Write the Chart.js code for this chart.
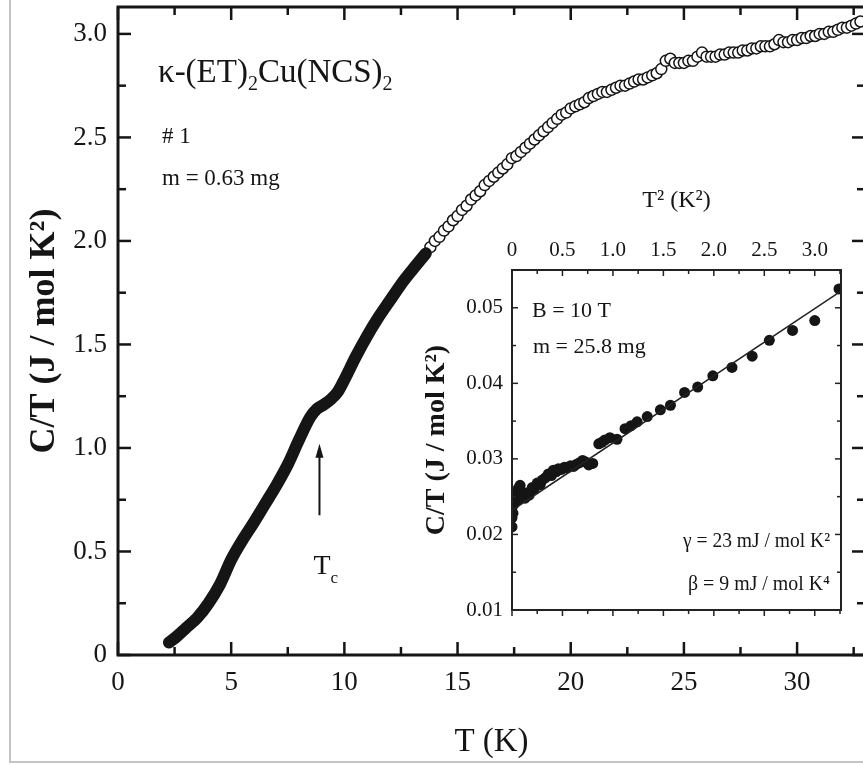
<!DOCTYPE html>
<html>
<head>
<meta charset="utf-8">
<title>C/T vs T</title>
<script src="https://cdn.jsdelivr.net/npm/chart.js@4"></script>
<style>
  html, body { margin: 0; padding: 0; width: 863px; height: 765px; overflow: hidden; background: #fff; }
  #marco { position: absolute; left: 9px; top: -10px; width: 900px; height: 773px; border: 2px solid #c4c4c4; box-sizing: border-box; }
  #myChart { position: absolute; left: 0; top: 0; }
  #insetChart { position: absolute; left: 415px; top: 175px; }
</style>
</head>
<body>
<div id="marco"></div>
<canvas id="myChart" width="872" height="765"></canvas>
<canvas id="insetChart" width="440" height="455"></canvas>
<script>
// main curve, below ~13.6 K the points merge into a solid band
const tempLow = [2.25, 2.6, 3.0, 3.5, 4.0, 4.5, 5.0, 5.5, 6.0, 6.5, 7.0, 7.5, 8.0, 8.5, 8.8, 9.1, 9.4, 9.7, 10.0, 10.5, 11.0, 11.5, 12.0, 12.5, 13.0, 13.6];
const ctLow = [0.06, 0.09, 0.13, 0.18, 0.25, 0.34, 0.46, 0.555, 0.64, 0.73, 0.82, 0.92, 1.04, 1.15, 1.19, 1.21, 1.235, 1.27, 1.33, 1.44, 1.54, 1.63, 1.71, 1.79, 1.86, 1.94];

// open circles above ~13.7 K
const tempHigh = [13.8, 14.0, 14.2, 14.4, 14.6, 14.8, 15.0, 15.2, 15.4, 15.6, 15.8, 16.0, 16.2, 16.4, 16.6, 16.8, 17.0, 17.2, 17.4, 17.6, 17.8, 18.0, 18.2, 18.4, 18.6, 18.8, 19.0, 19.2, 19.4, 19.6, 19.8, 20.0, 20.2, 20.4, 20.6, 20.8, 21.0, 21.2, 21.4, 21.6, 21.8, 22.0, 22.2, 22.4, 22.6, 22.8, 23.0, 23.2, 23.4, 23.6, 23.8, 24.0, 24.2, 24.4, 24.6, 24.8, 25.0, 25.2, 25.4, 25.6, 25.8, 26.0, 26.2, 26.4, 26.6, 26.8, 27.0, 27.2, 27.4, 27.6, 27.8, 28.0, 28.2, 28.4, 28.6, 28.8, 29.0, 29.2, 29.4, 29.6, 29.8, 30.0, 30.2, 30.4, 30.6, 30.8, 31.0, 31.2, 31.4, 31.6, 31.8, 32.0, 32.2, 32.4, 32.6, 32.8];
const ctHigh = [1.97, 2.00, 2.02, 2.05, 2.07, 2.10, 2.12, 2.15, 2.17, 2.20, 2.22, 2.24, 2.27, 2.29, 2.31, 2.33, 2.35, 2.37, 2.40, 2.41, 2.43, 2.45, 2.47, 2.49, 2.51, 2.53, 2.55, 2.57, 2.59, 2.61, 2.62, 2.64, 2.65, 2.66, 2.67, 2.69, 2.70, 2.71, 2.72, 2.72, 2.73, 2.74, 2.75, 2.75, 2.76, 2.77, 2.78, 2.78, 2.79, 2.80, 2.81, 2.83, 2.87, 2.88, 2.86, 2.86, 2.86, 2.87, 2.87, 2.89, 2.91, 2.89, 2.89, 2.89, 2.90, 2.90, 2.91, 2.91, 2.91, 2.92, 2.92, 2.93, 2.93, 2.94, 2.94, 2.94, 2.95, 2.97, 2.96, 2.96, 2.97, 2.97, 2.98, 2.98, 2.99, 2.99, 3.00, 3.00, 3.01, 3.01, 3.02, 3.03, 3.03, 3.04, 3.05, 3.06];

// inset, B = 10 T
const t2Inset = [0.00, 0.00, 0.00, 0.01, 0.01, 0.02, 0.02, 0.03, 0.04, 0.05, 0.06, 0.07, 0.08, 0.09, 0.10, 0.12, 0.13, 0.15, 0.17, 0.20, 0.22, 0.25, 0.28, 0.30, 0.33, 0.36, 0.39, 0.41, 0.44, 0.46, 0.49, 0.52, 0.55, 0.58, 0.61, 0.64, 0.67, 0.70, 0.73, 0.76, 0.80, 0.86, 0.89, 0.92, 0.97, 1.04, 1.12, 1.18, 1.24, 1.34, 1.47, 1.57, 1.71, 1.84, 1.99, 2.18, 2.38, 2.55, 2.78, 3.00, 3.24];
const ctInset = [0.0210, 0.0222, 0.0236, 0.0228, 0.0246, 0.0240, 0.0252, 0.0255, 0.0248, 0.0245, 0.0260, 0.0262, 0.0265, 0.0258, 0.0250, 0.0250, 0.0248, 0.0255, 0.0252, 0.0262, 0.0260, 0.0268, 0.0266, 0.0272, 0.0275, 0.0280, 0.0278, 0.0285, 0.0283, 0.0287, 0.0286, 0.0289, 0.0288, 0.0291, 0.0290, 0.0293, 0.0295, 0.0298, 0.0296, 0.0292, 0.0294, 0.0320, 0.0322, 0.0325, 0.0328, 0.0326, 0.0340, 0.0344, 0.0349, 0.0356, 0.0365, 0.0371, 0.0388, 0.0395, 0.0410, 0.0421, 0.0436, 0.0457, 0.0470, 0.0483, 0.0525];
const t2Fit = [0, 3.26];
const ctFit = [0.0232, 0.0522];

const xTicks = [0, 5, 10, 15, 20, 25, 30];
const xTickLabels = ["0", "5", "10", "15", "20", "25", "30"];
const yTicks = [0, 0.5, 1.0, 1.5, 2.0, 2.5, 3.0];
const yTickLabels = ["0", "0.5", "1.0", "1.5", "2.0", "2.5", "3.0"];
const xInsetTicks = [0, 0.5, 1.0, 1.5, 2.0, 2.5, 3.0];
const xInsetLabels = ["0", "0.5", "1.0", "1.5", "2.0", "2.5", "3.0"];
const yInsetTicks = [0.01, 0.02, 0.03, 0.04, 0.05];
const yInsetLabels = ["0.01", "0.02", "0.03", "0.04", "0.05"];

const serif = "'Liberation Serif', 'Times New Roman', serif";
const ink = "#151515";
Chart.defaults.font.family = serif;
Chart.defaults.color = ink;

const toPoints = (xs, ys) => xs.map((x, i) => ({ x: x, y: ys[i] }));

const range = (from, to, step) => {
    let out = [];
    for (let v = from; v <= to + 1e-9; v += step) out.push(+v.toFixed(4));
    return out;
};

// fixed axis sizes, no extra room for edge labels
const fixSize = (prop, size) => (s) => {
    s[prop] = size;
    s.paddingTop = 0; s.paddingBottom = 0; s.paddingLeft = 0; s.paddingRight = 0;
};

// ticks pointing into the box, drawn from the scales
const drawBox = (chart, o) => {
    const { ctx, chartArea: a, scales } = chart;
    const sx = scales.x, sy = scales.y;
    const mark = (x1, y1, x2, y2) => { ctx.beginPath(); ctx.moveTo(x1, y1); ctx.lineTo(x2, y2); ctx.stroke(); };
    ctx.save();
    ctx.strokeStyle = o.color;
    ctx.lineWidth = o.tickWidth;
    o.xMajor.concat(o.xMinor).forEach((v) => {
        const len = o.xMajor.includes(v) ? o.major : o.minor;
        const px = sx.getPixelForValue(v);
        mark(px, a.top, px, a.top + len);
        mark(px, a.bottom, px, a.bottom + o.bottomDir * len);
    });
    o.yMajor.concat(o.yMinor).forEach((v) => {
        const len = o.yMajor.includes(v) ? o.major : o.minor;
        const py = sy.getPixelForValue(v);
        mark(a.left, py, a.left + len, py);
        mark(a.right, py, a.right - len, py);
    });
    ctx.lineWidth = o.frameWidth;
    ctx.strokeRect(a.left, a.top, a.right - a.left, a.bottom - a.top);
    ctx.restore();
};

const text = (ctx, t, x, y, size, opts = {}) => {
    ctx.font = (opts.bold ? "bold " : "") + size + "px " + serif;
    ctx.textAlign = opts.align || "left";
    ctx.textBaseline = "alphabetic";
    if (opts.maxWidth) ctx.fillText(t, x, y, opts.maxWidth);
    else ctx.fillText(t, x, y);
    return ctx.measureText(t).width;
};

const mainDecor = {
    id: "mainDecor",
    afterDraw(chart) {
        drawBox(chart, {
            color: ink, tickWidth: 2.5, frameWidth: 3, major: 13, minor: 8, bottomDir: -1,
            xMajor: xTicks, xMinor: range(2.5, 32.5, 5),
            yMajor: yTicks, yMinor: range(0.25, 2.75, 0.5)
        });
        const { ctx, scales } = chart;
        ctx.save();
        ctx.fillStyle = ink;
        // compound name
        let x = 158;
        x += text(ctx, "\u03BA-(ET)", x, 82, 33);
        x += text(ctx, "2", x, 90, 20);
        x += text(ctx, "Cu(NCS)", x, 82, 33);
        text(ctx, "2", x, 90, 20);
        text(ctx, "# 1", 162, 143, 23);
        text(ctx, "m = 0.63 mg", 162, 185, 23);
        // Tc arrow
        const ax = scales.x.getPixelForValue(8.9);
        const yTip = scales.y.getPixelForValue(1.02);
        const yEnd = scales.y.getPixelForValue(0.675);
        ctx.strokeStyle = ink;
        ctx.lineWidth = 2;
        ctx.beginPath(); ctx.moveTo(ax, yEnd); ctx.lineTo(ax, yTip + 8); ctx.stroke();
        ctx.beginPath(); ctx.moveTo(ax, yTip); ctx.lineTo(ax - 4, yTip + 14); ctx.lineTo(ax + 4, yTip + 14); ctx.closePath(); ctx.fill();
        const w = text(ctx, "T", ax - 6, 574, 28);
        text(ctx, "c", ax - 6 + w, 583, 17);
        ctx.restore();
    }
};

const insetDecor = {
    id: "insetDecor",
    afterDraw(chart) {
        drawBox(chart, {
            color: "#222", tickWidth: 1.5, frameWidth: 2, major: 6, minor: 4, bottomDir: 1,
            xMajor: xInsetTicks, xMinor: range(0.25, 3.25, 0.5),
            yMajor: yInsetTicks, yMinor: range(0.015, 0.05, 0.01)
        });
        const ctx = chart.ctx;
        const ox = 415, oy = 175;
        ctx.save();
        ctx.fillStyle = ink;
        text(ctx, "B = 10 T", 532 - ox, 317 - oy, 22);
        text(ctx, "m = 25.8 mg", 533 - ox, 353 - oy, 22);
        text(ctx, "\u03B3 = 23 mJ / mol K\u00B2", 830 - ox, 547 - oy, 21, { align: "right", maxWidth: 147 });
        text(ctx, "\u03B2 = 9 mJ / mol K\u2074", 830 - ox, 590 - oy, 21, { align: "right", maxWidth: 142 });
        ctx.restore();
    }
};

const mainConfig = {
    type: "scatter",
    data: {
        datasets: [
            {
                data: toPoints(tempLow, ctLow),
                showLine: true,
                borderColor: ink,
                borderWidth: 12,
                borderCapStyle: "round",
                borderJoinStyle: "round",
                cubicInterpolationMode: "monotone",
                pointRadius: 0
            },
            {
                data: toPoints(tempHigh, ctHigh),
                showLine: false,
                pointRadius: 5.5,
                pointBorderWidth: 1.5,
                pointBorderColor: ink,
                pointBackgroundColor: "#fff"
            }
        ]
    },
    options: {
        responsive: false,
        animation: false,
        layout: { padding: { top: 5, right: 5, left: 0, bottom: 0 } },
        plugins: { legend: { display: false }, tooltip: { enabled: false } },
        scales: {
            x: {
                type: "linear", position: "bottom", min: 0, max: 33,
                afterFit: fixSize("height", 110),
                afterBuildTicks: (s) => { s.ticks = xTicks.map((v) => ({ value: v })); },
                grid: { display: false, drawTicks: false },
                border: { display: false },
                ticks: { callback: (v, i) => xTickLabels[i], padding: 12, font: { size: 27 }, color: ink, maxRotation: 0, autoSkip: false },
                title: { display: true, text: "T (K)", font: { size: 33 }, color: ink, padding: { top: 0, bottom: 3 } }
            },
            y: {
                type: "linear", position: "left", min: 0, max: 3.13,
                afterFit: fixSize("width", 118),
                afterBuildTicks: (s) => { s.ticks = yTicks.map((v) => ({ value: v })); },
                grid: { display: false, drawTicks: false },
                border: { display: false },
                ticks: { callback: (v, i) => yTickLabels[i], padding: 11, font: { size: 27 }, color: ink, autoSkip: false },
                title: { display: true, text: "C/T (J / mol K\u00B2)", font: { size: 36, weight: "bold" }, color: ink, padding: { top: 23, bottom: 0 } }
            }
        }
    },
    plugins: [mainDecor]
};

const insetConfig = {
    type: "scatter",
    data: {
        datasets: [
            {
                data: toPoints(t2Fit, ctFit),
                showLine: true,
                borderColor: "#222",
                borderWidth: 1.5,
                pointRadius: 0
            },
            {
                data: toPoints(t2Inset, ctInset),
                showLine: false,
                pointRadius: 5.5,
                pointBorderWidth: 0,
                pointBackgroundColor: ink
            }
        ]
    },
    options: {
        responsive: false,
        animation: false,
        layout: { padding: { top: 0, right: 14, left: 0, bottom: 20 } },
        plugins: { legend: { display: false }, tooltip: { enabled: false } },
        scales: {
            x: {
                type: "linear", position: "top", min: 0, max: 3.26,
                afterFit: fixSize("height", 95),
                afterBuildTicks: (s) => { s.ticks = xInsetTicks.map((v) => ({ value: v })); },
                grid: { display: false, drawTicks: false },
                border: { display: false },
                ticks: { callback: (v, i) => xInsetLabels[i], padding: 7, font: { size: 21 }, color: ink, maxRotation: 0, autoSkip: false },
                title: { display: true, text: "T\u00B2 (K\u00B2)", font: { size: 24 }, color: ink, padding: { top: 11, bottom: 0 } }
            },
            y: {
                type: "linear", position: "left", min: 0.01, max: 0.055,
                afterFit: fixSize("width", 97),
                afterBuildTicks: (s) => { s.ticks = yInsetTicks.map((v) => ({ value: v })); },
                grid: { display: false, drawTicks: false },
                border: { display: false },
                ticks: { callback: (v, i) => yInsetLabels[i], padding: 9, font: { size: 21 }, color: ink, autoSkip: false },
                title: { display: true, text: "C/T (J / mol K\u00B2)", font: { size: 28, weight: "bold" }, color: ink, padding: { top: 5, bottom: 0 } }
            }
        }
    },
    plugins: [insetDecor]
};

window.onload = function () {
    new Chart(document.getElementById("myChart"), mainConfig);
    new Chart(document.getElementById("insetChart"), insetConfig);
};
</script>
</body>
</html>
